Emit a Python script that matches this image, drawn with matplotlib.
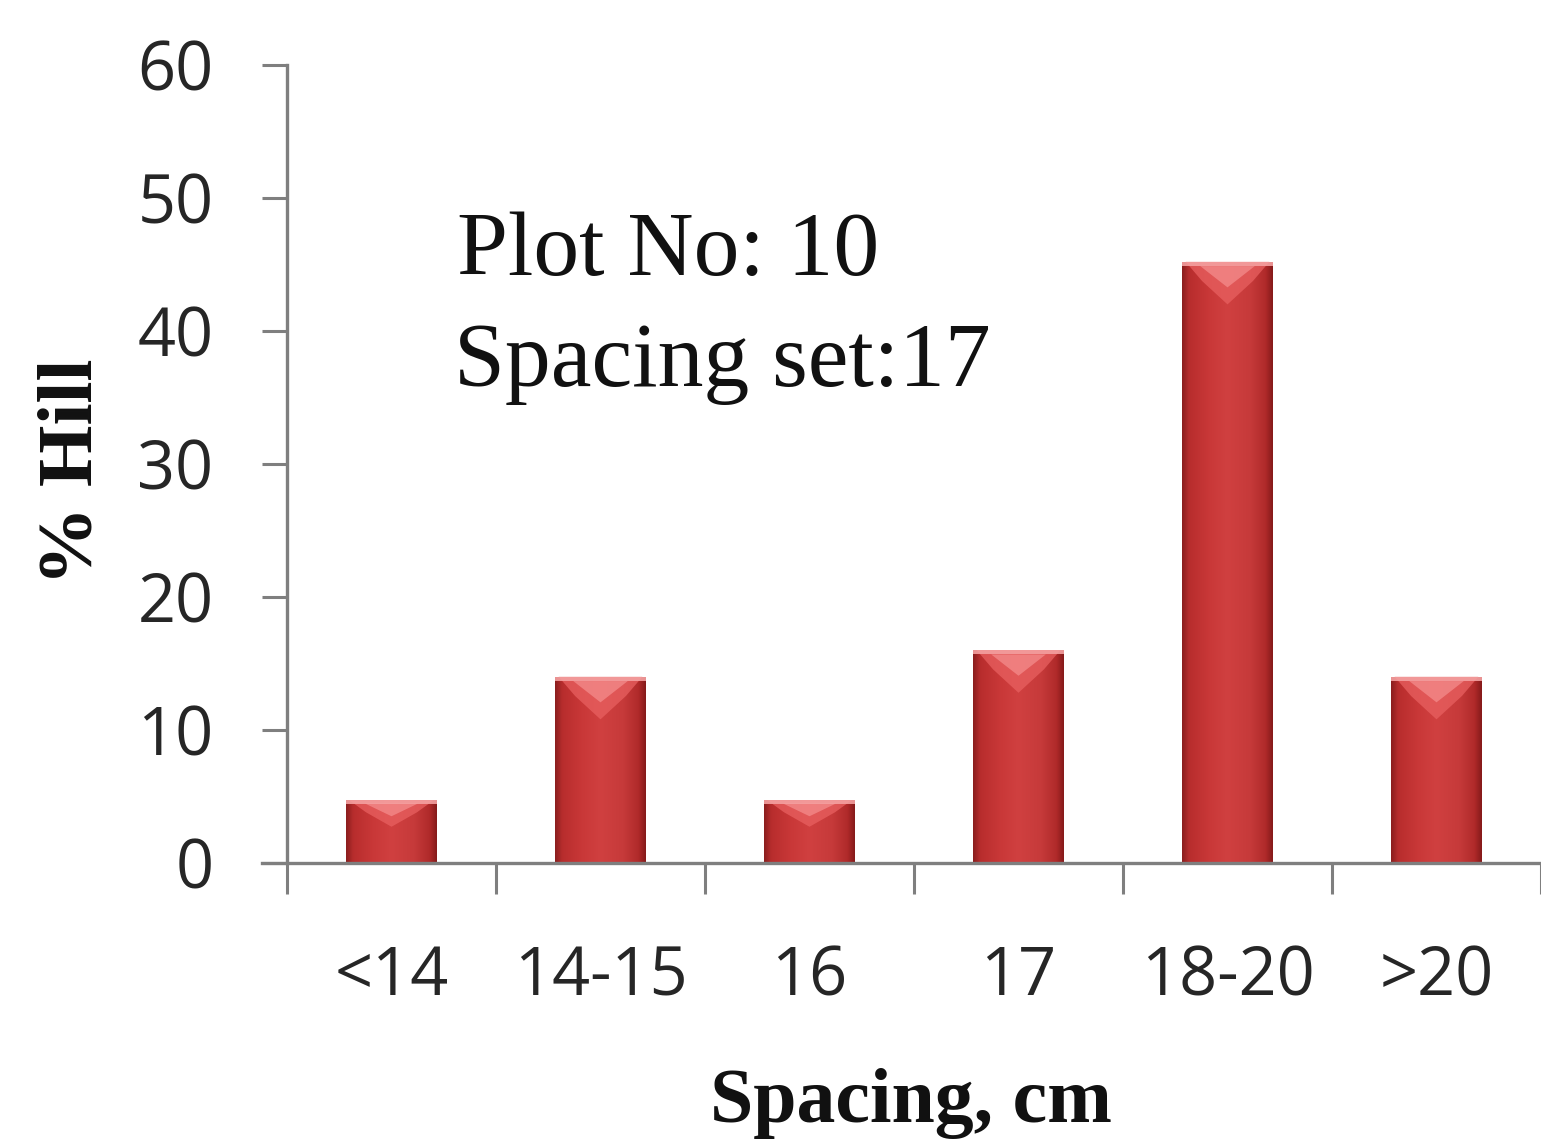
import numpy as np
import matplotlib
matplotlib.use("Agg")
import matplotlib.pyplot as plt
from matplotlib.patches import Rectangle, Polygon
from matplotlib.colors import LinearSegmentedColormap

# Share of hills per spacing class
categories = ["<14", "14-15", "16", "17", "18-20", ">20"]
percent_hill = [4.7, 14.0, 4.7, 16.0, 45.2, 14.0]
y_ticks = [0, 10, 20, 30, 40, 50, 60]

W, H = 1541, 1145
fig = plt.figure(figsize=(W / 100, H / 100), dpi=100)
ax = fig.add_axes([287 / W, 282 / H, 1 - 287 / W, (863 - 65) / H])

x = np.arange(len(categories))
bar_w = 0.435
ax.set_xlim(-0.5, 5.49)
ax.set_ylim(0, 60)

# cylinder-like shading across each bar
shade = LinearSegmentedColormap.from_list(
    "bar_shade",
    [(0.0, "#8a1e1e"), (0.08, "#b82d2d"), (0.3, "#c93838"), (0.5, "#d04040"),
     (0.75, "#c63a3a"), (0.92, "#b02a2a"), (1.0, "#851a1a")])
grad = np.linspace(0, 1, 256).reshape(1, -1)

bars = ax.bar(x, percent_hill, width=bar_w, color="#c53838", zorder=2)
for rect, h in zip(bars, percent_hill):
    x0 = rect.get_x()
    w = rect.get_width()
    im = ax.imshow(grad, cmap=shade, extent=(x0, x0 + w, 0, h),
                   aspect="auto", zorder=3, interpolation="bicubic")
    im.set_clip_path(rect)
    # light bevel at the top of the bar
    cap = min(3.2, 0.42 * h)
    ax.add_patch(Polygon([(x0 + 0.04 * w, h), (x0 + 0.96 * w, h),
                          (x0 + 0.78 * w, h - cap * 0.45),
                          (x0 + 0.5 * w, h - cap),
                          (x0 + 0.22 * w, h - cap * 0.45)],
                         closed=True, facecolor="#e86060", edgecolor="none",
                         alpha=0.75, zorder=4))
    ax.add_patch(Polygon([(x0 + 0.2 * w, h - 0.1 * cap), (x0 + 0.8 * w, h - 0.1 * cap),
                          (x0 + 0.5 * w, h - 0.6 * cap)],
                         closed=True, facecolor="#f59090", edgecolor="none",
                         alpha=0.7, zorder=4))
    ax.add_patch(Rectangle((x0, h - 0.3), w, 0.3, facecolor="#f4a0a0",
                           edgecolor="none", alpha=0.9, zorder=4))

for s in ("top", "right"):
    ax.spines[s].set_visible(False)
for s in ("left", "bottom"):
    ax.spines[s].set_color("#7f7f7f")
    ax.spines[s].set_linewidth(2.4)
ax.spines["bottom"].set_bounds(-0.62, 5.49)
ax.spines["bottom"].set_zorder(5)

ax.set_yticks(y_ticks)
ax.set_yticklabels([str(v) for v in y_ticks])
ax.set_xticks(np.arange(-0.5, 6.0, 1.0), minor=False)
ax.set_xticklabels([])
ax.set_xticks(x, minor=True)
ax.set_xticklabels(categories, minor=True)

ax.tick_params(axis="y", which="major", direction="out", length=18, width=2.2,
               color="#7f7f7f", pad=35)
ax.tick_params(axis="x", which="major", direction="out", length=22, width=2.2,
               color="#7f7f7f")
ax.tick_params(axis="x", which="minor", length=0, pad=58)
for lab in list(ax.get_yticklabels()) + list(ax.get_xticklabels(minor=True)):
    lab.set_fontfamily("Open Sans")
    lab.set_fontsize(48)
    lab.set_color("#262626")

# axis titles
fig.text(92 / W, 1 - 472 / H, "% Hill", fontfamily="Liberation Serif",
         fontweight="bold", fontsize=57, rotation=90, rotation_mode="anchor",
         ha="center", va="baseline", color="#111111")
fig.text(911 / W, (H - 1122) / H, "Spacing, cm", fontfamily="Liberation Serif",
         fontweight="bold", fontsize=56, ha="center", va="baseline",
         color="#111111")

ax.text(0.315, 44.2, "Plot No: 10", fontfamily="Liberation Serif",
        fontsize=66, va="baseline", ha="left", color="#111111")
ax.text(0.30, 35.9, "Spacing set:17", fontfamily="Liberation Serif",
        fontsize=66, va="baseline", ha="left", color="#111111")

fig.savefig("out.png", dpi=100, facecolor="white")
